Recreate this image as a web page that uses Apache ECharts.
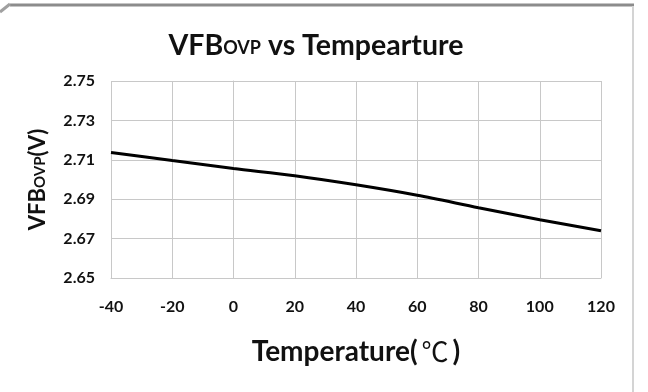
<!DOCTYPE html>
<html>
<head>
<meta charset="utf-8">
<script src="https://cdn.jsdelivr.net/npm/echarts@6/dist/echarts.min.js"></script>
<style>
  html, body { margin: 0; padding: 0; background: #fff; }
  #main { width: 648px; height: 392px; }
</style>
</head>
<body>
<div id="main"></div>
<script>
// temperature (℃) and VFB_OVP (V)
const temps = [-40, -20, 0, 20, 40, 60, 80, 100, 120];
const vfbOvp = [2.7137, 2.7096, 2.7056, 2.7019, 2.6973, 2.6920, 2.6857, 2.6796, 2.6740];

const yMin = 2.65;
const yMax = 2.75;
const yStep = 0.02;

const FONT = 'Lato';

const myChart = echarts.init(document.getElementById('main'));

const option = {
  backgroundColor: '#fff',
  animation: false,
  title: {
    text: '{a|VFB}{b|OVP}{a| vs Tempearture}',
    left: 311,
    top: 26,
    textAlign: 'center',
    textStyle: {
      rich: {
        a: { fontFamily: FONT, fontWeight: 'bold', fontSize: 28.5, color: '#111' },
        b: { fontFamily: FONT, fontWeight: 'bold', fontSize: 18, color: '#111', padding: [6, 0, 0, 0] }
      }
    }
  },
  grid: {
    left: 111,
    right: 47,
    top: 81,
    bottom: 114
  },
  xAxis: {
    type: 'value',
    min: -40,
    max: 120,
    interval: 20,
    name: '{a|Temperature(}{c|℃}{a|)}',
    nameLocation: 'middle',
    nameGap: 60,
    nameTextStyle: {
      rich: {
        a: { fontFamily: FONT, fontWeight: 'bold', fontSize: 28, color: '#111' },
        c: { fontFamily: 'Noto Sans CJK SC', fontWeight: 'normal', fontSize: 27, color: '#111', padding: [0, 4, 0, 4] }
      }
    },
    axisLine: { lineStyle: { color: '#c8c8c8', width: 1 } },
    axisTick: { show: false },
    axisLabel: { margin: 21, fontFamily: FONT, fontWeight: 'bold', fontSize: 16, color: '#111' },
    splitLine: { show: true, lineStyle: { color: '#c8c8c8', width: 1 } }
  },
  yAxis: {
    type: 'value',
    min: yMin,
    max: yMax,
    interval: yStep,
    name: '{a|VFB}{b|OVP}{a|(V)}',
    nameLocation: 'middle',
    nameGap: 62,
    nameRotate: 90,
    nameTextStyle: {
      rich: {
        a: { fontFamily: FONT, fontWeight: 'bold', fontSize: 22, color: '#111' },
        b: { fontFamily: FONT, fontWeight: 'bold', fontSize: 15, color: '#111', padding: [5, 0, 0, 0] }
      }
    },
    axisLine: { show: true, lineStyle: { color: '#c8c8c8', width: 1 } },
    axisTick: { show: false },
    axisLabel: {
      margin: 16,
      fontFamily: FONT,
      fontWeight: 'bold',
      fontSize: 16,
      color: '#111',
      formatter: (v) => v.toFixed(2)
    },
    splitLine: { show: true, lineStyle: { color: '#c8c8c8', width: 1 } }
  },
  series: [{
    name: 'VFBovp',
    type: 'line',
    data: temps.map((t, i) => [t, vfbOvp[i]]),
    smooth: 0.3,
    symbol: 'none',
    lineStyle: { color: '#000', width: 3 }
  }],
  // picture frame around the chart
  graphic: [
    { type: 'line', shape: { x1: 10, y1: 5, x2: 634, y2: 5 }, style: { stroke: '#8c8c8c', lineWidth: 3 } },
    { type: 'line', shape: { x1: 633, y1: 6, x2: 633, y2: 392 }, style: { stroke: '#d4d4d4', lineWidth: 2 } },
    { type: 'line', shape: { x1: 0, y1: 12, x2: 10, y2: 4 }, style: { stroke: '#a0a0a0', lineWidth: 3 } }
  ]
};

myChart.setOption(option);
</script>
</body>
</html>
